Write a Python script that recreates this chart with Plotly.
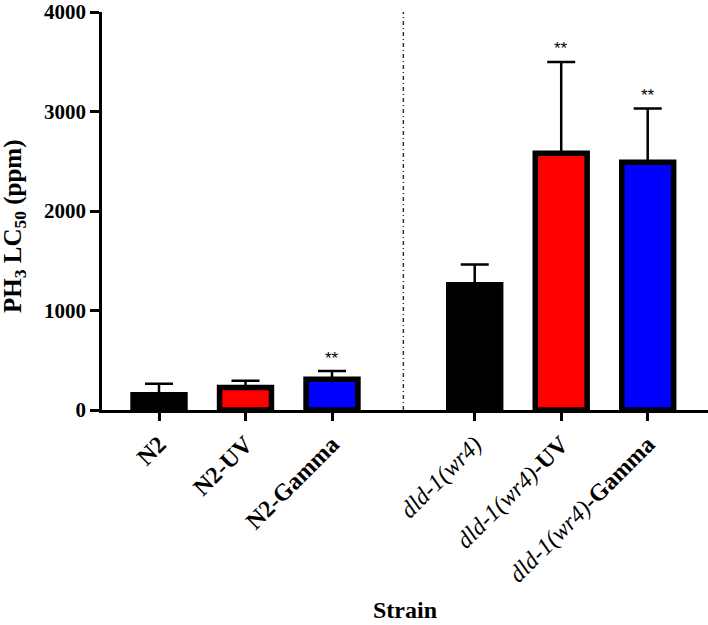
import plotly.graph_objects as go

# ---- data ----
categories = ["N2", "N2-UV", "N2-Gamma", "dld-1(wr4)", "dld-1(wr4)-UV", "dld-1(wr4)-Gamma"]
tick_labels = ["<b>N2</b>", "<b>N2-UV</b>", "<b>N2-Gamma</b>",
               "<i>dld-1(wr4)</i>", "<i>dld-1(wr4)</i><b>-UV</b>", "<i>dld-1(wr4)</i><b>-Gamma</b>"]
lc50_mean = [153, 225, 310, 1260, 2580, 2490]
lc50_err = [112, 70, 82, 202, 918, 540]
significant = [False, False, True, False, True, True]
bar_colors = ["#000000", "#FF0000", "#0000FF", "#000000", "#FF0000", "#0000FF"]
y_ticks = [0, 1000, 2000, 3000, 4000]

# ---- layout helpers ----
GAP = 0.65
x_pos = [i + (GAP if i >= 3 else 0) for i in range(len(categories))]
FONT = "Liberation Serif, Times New Roman, serif"

fig = go.Figure()
fig.add_trace(go.Bar(
    x=x_pos, y=lc50_mean, width=0.6,
    marker=dict(color=bar_colors, line=dict(color="black", width=5.5)),
    error_y=dict(type="data", symmetric=False, array=lc50_err,
                 arrayminus=[0] * len(lc50_err), color="black",
                 thickness=2.5, width=14),
    hovertext=categories, showlegend=False,
))

annotations = []
for xp, m, e, s in zip(x_pos, lc50_mean, lc50_err, significant):
    if s:
        annotations.append(dict(x=xp, y=m + e, xref="x", yref="y", text="**",
                                showarrow=False, yanchor="middle", yshift=13,
                                font=dict(family="Liberation Sans, Arial", size=17, color="black")))

annotations.append(dict(x=-0.1435, y=0.4625, xref="paper", yref="paper",
                        text="PH<sub>3</sub> LC<sub>50</sub> (ppm)", textangle=-90,
                        showarrow=False, xanchor="center", yanchor="middle",
                        font=dict(family=FONT, size=25, color="black", weight="bold")))
annotations.append(dict(x=0.5, y=-0.503, xref="paper", yref="paper", text="Strain",
                        showarrow=False, xanchor="center", yanchor="middle",
                        font=dict(family=FONT, size=24, color="black", weight="bold")))

divider_x = (x_pos[2] + x_pos[3]) / 2
fig.add_shape(type="line", x0=divider_x, x1=divider_x, y0=0, y1=1,
              xref="x", yref="paper",
              line=dict(color="#333333", width=1.5, dash="4px,3px,1px,3px"))

fig.update_layout(
    width=708, height=625,
    margin=dict(l=102, r=0, t=10, b=215),
    plot_bgcolor="white", paper_bgcolor="white",
    annotations=annotations,
    xaxis=dict(range=[-0.659, 6.347], tickmode="array", tickvals=x_pos, ticktext=tick_labels,
               tickangle=-45, ticks="outside", ticklen=8, tickwidth=2.5, tickcolor="black",
               showline=True, linecolor="black", linewidth=2.5, showgrid=False, zeroline=False,
               ticklabeloverflow="allow",
               tickfont=dict(family=FONT, size=24, color="black")),
    yaxis=dict(range=[0, 4000], tickmode="array", tickvals=y_ticks,
               ticks="outside", ticklen=9, tickwidth=2.5, tickcolor="black",
               showline=True, linecolor="black", linewidth=2.5, showgrid=False, zeroline=False,
               ticklabeloverflow="allow",
               tickfont=dict(family=FONT, size=21, color="black", weight="bold")),
)

fig.write_html("out.html", config={"displayModeBar": False},
               post_script="document.body.style.margin='0';")
